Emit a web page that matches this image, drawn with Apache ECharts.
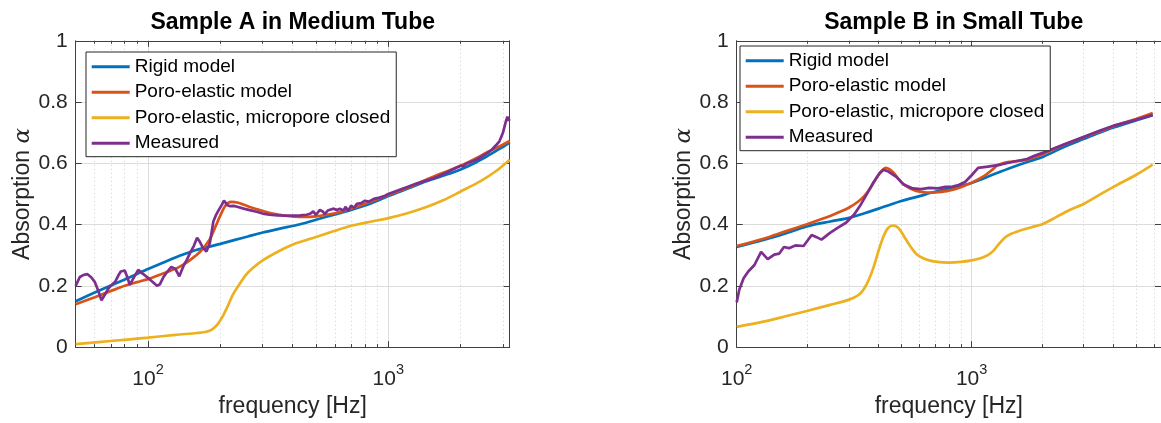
<!DOCTYPE html>
<html>
<head>
<meta charset="utf-8">
<script src="https://cdn.jsdelivr.net/npm/echarts@6/dist/echarts.min.js"></script>
<style>
html,body{margin:0;padding:0;background:#fff;}
#c{width:1161px;height:423px;}
</style>
</head>
<body>
<div id="c"></div>
<script>
// ---------------- DATA ----------------
const seriesNames = ['Rigid model', 'Poro-elastic model', 'Poro-elastic, micropore closed', 'Measured'];
const titles = ['Sample A in Medium Tube', 'Sample B in Small Tube'];
const yTicks = [0, 0.2, 0.4, 0.6, 0.8, 1];
const xMajorTicks = [100, 1000];
const xMinorTicksA = [60, 70, 80, 90, 200, 300, 400, 500, 600, 700, 800, 900, 2000, 3000];
const xMinorTicksB = [200, 300, 400, 500, 600, 700, 800, 900, 2000, 3000, 4000, 5000, 6000];
const xRangeA = [50, 3200];
const xRangeB = [100, 6400];

// Sample A (medium tube)
const fRigidA = [50, 60, 70, 80, 90, 100, 120, 140, 160, 180, 200, 230, 260, 300, 350, 430, 500, 600, 700, 850, 1000, 1200, 1450, 1700, 2000, 2300, 2600, 2900, 3200];
const vRigidA = [0.150, 0.178, 0.201, 0.221, 0.239, 0.255, 0.281, 0.302, 0.318, 0.328, 0.337, 0.350, 0.361, 0.374, 0.386, 0.401, 0.416, 0.433, 0.448, 0.470, 0.493, 0.517, 0.542, 0.560, 0.580, 0.602, 0.625, 0.647, 0.668];

const fPoroA = [50, 60, 70, 80, 90, 100, 120, 135, 150, 165, 180, 190, 200, 210, 222, 235, 260, 290, 330, 380, 430, 500, 600, 700, 850, 1000, 1200, 1450, 1700, 2000, 2300, 2600, 2900, 3200];
const vPoroA = [0.140, 0.163, 0.183, 0.200, 0.212, 0.222, 0.245, 0.262, 0.285, 0.312, 0.350, 0.390, 0.430, 0.462, 0.474, 0.472, 0.460, 0.448, 0.436, 0.428, 0.425, 0.427, 0.437, 0.452, 0.475, 0.497, 0.520, 0.548, 0.570, 0.592, 0.615, 0.638, 0.655, 0.673];

const fClosedA = [50, 70, 100, 130, 160, 175, 185, 195, 205, 215, 225, 240, 255, 270, 300, 350, 410, 490, 590, 700, 850, 1000, 1200, 1450, 1700, 2000, 2400, 2800, 3200];
const vClosedA = [0.010, 0.020, 0.031, 0.040, 0.046, 0.050, 0.058, 0.075, 0.102, 0.135, 0.170, 0.205, 0.235, 0.255, 0.283, 0.313, 0.338, 0.357, 0.378, 0.396, 0.410, 0.421, 0.437, 0.458, 0.480, 0.508, 0.540, 0.574, 0.612];

const fMeasA = [50, 52, 54, 56, 58, 60, 62, 64, 66, 68.5, 71, 73, 75, 77, 80, 82, 84, 87, 91, 95, 99, 104, 109, 112, 116, 120, 125, 130, 135, 138, 141, 145, 150, 155, 160, 164, 169, 175, 181, 187, 192, 197, 203, 207, 211, 214, 220, 227, 235, 250, 265, 283, 300, 320, 345, 370, 400, 430, 457, 475, 487, 500, 519, 535, 544, 560, 589, 610, 628, 650, 665, 680, 700, 720, 740, 770, 800, 830, 870, 920, 970, 1000, 1100, 1200, 1300, 1450, 1600, 1700, 1800, 1900, 2000, 2050, 2100, 2200, 2300, 2400, 2500, 2600, 2700, 2800, 2900, 3000, 3080, 3130, 3170, 3200];
const vMeasA = [0.200, 0.229, 0.236, 0.238, 0.228, 0.213, 0.185, 0.153, 0.170, 0.192, 0.205, 0.213, 0.232, 0.247, 0.250, 0.228, 0.203, 0.225, 0.252, 0.240, 0.229, 0.214, 0.200, 0.205, 0.229, 0.245, 0.262, 0.255, 0.231, 0.250, 0.268, 0.285, 0.309, 0.330, 0.357, 0.345, 0.325, 0.312, 0.341, 0.410, 0.432, 0.448, 0.465, 0.478, 0.470, 0.463, 0.460, 0.461, 0.458, 0.452, 0.447, 0.442, 0.436, 0.432, 0.430, 0.429, 0.429, 0.430, 0.432, 0.436, 0.443, 0.432, 0.448, 0.442, 0.434, 0.446, 0.452, 0.448, 0.452, 0.446, 0.458, 0.444, 0.462, 0.455, 0.468, 0.470, 0.478, 0.475, 0.484, 0.488, 0.494, 0.500, 0.512, 0.523, 0.533, 0.545, 0.556, 0.566, 0.575, 0.584, 0.592, 0.590, 0.598, 0.604, 0.610, 0.618, 0.627, 0.635, 0.645, 0.658, 0.672, 0.700, 0.735, 0.752, 0.740, 0.745];

// Sample B (small tube)
const fRigidB = [100, 130, 160, 199, 250, 301, 350, 402, 450, 498, 600, 698, 850, 1000, 1250, 1500, 1750, 2010, 2500, 3010, 3500, 4018, 5000, 5900];
const vRigidB = [0.327, 0.350, 0.370, 0.394, 0.410, 0.422, 0.437, 0.452, 0.465, 0.476, 0.493, 0.507, 0.522, 0.536, 0.565, 0.588, 0.606, 0.621, 0.655, 0.680, 0.700, 0.717, 0.740, 0.757];

const fPoroB = [100, 130, 160, 199, 230, 253, 280, 300, 325, 348, 365, 383, 400, 415, 432, 448, 464, 485, 511, 545, 580, 620, 659, 720, 800, 900, 1000, 1137, 1220, 1292, 1380, 1468, 1600, 1722, 1850, 2010, 2500, 3010, 3500, 4018, 5000, 5900];
const vPoroB = [0.330, 0.354, 0.377, 0.401, 0.418, 0.430, 0.444, 0.455, 0.472, 0.492, 0.512, 0.537, 0.560, 0.576, 0.585, 0.580, 0.570, 0.552, 0.533, 0.518, 0.510, 0.506, 0.504, 0.506, 0.511, 0.522, 0.537, 0.560, 0.578, 0.594, 0.602, 0.605, 0.608, 0.612, 0.620, 0.630, 0.662, 0.686, 0.704, 0.721, 0.745, 0.764];

const fClosedB = [100, 130, 160, 199, 250, 301, 330, 348, 365, 383, 400, 421, 440, 464, 480, 495, 520, 545, 580, 619, 660, 703, 800, 900, 1000, 1100, 1172, 1240, 1292, 1380, 1468, 1600, 1722, 1850, 2010, 2300, 2600, 3010, 3500, 4018, 5000, 5900];
const vClosedB = [0.066, 0.083, 0.100, 0.118, 0.138, 0.155, 0.170, 0.190, 0.220, 0.262, 0.310, 0.360, 0.388, 0.397, 0.393, 0.383, 0.357, 0.332, 0.305, 0.291, 0.283, 0.279, 0.276, 0.278, 0.283, 0.291, 0.300, 0.315, 0.332, 0.356, 0.369, 0.380, 0.387, 0.394, 0.402, 0.425, 0.447, 0.468, 0.497, 0.523, 0.562, 0.596];

const fMeasB = [100, 102.6, 107, 112, 119, 127, 135.5, 144.5, 151.6, 158.9, 166.8, 177.8, 192.6, 208.5, 218.9, 229.5, 248.7, 269.8, 291.9, 316.2, 337.3, 359.6, 383, 405.6, 421.4, 442.3, 479.5, 511, 562, 610, 659, 720, 774, 830, 880, 938, 1000, 1066, 1172, 1334, 1517, 1722, 1850, 2023, 2500, 3010, 3500, 4018, 5000, 5900];
const vMeasB = [0.146, 0.188, 0.225, 0.247, 0.268, 0.311, 0.287, 0.302, 0.305, 0.327, 0.323, 0.332, 0.330, 0.366, 0.359, 0.351, 0.372, 0.390, 0.406, 0.433, 0.465, 0.502, 0.539, 0.568, 0.579, 0.573, 0.555, 0.532, 0.518, 0.516, 0.520, 0.518, 0.523, 0.524, 0.529, 0.539, 0.561, 0.585, 0.589, 0.596, 0.606, 0.614, 0.625, 0.635, 0.663, 0.687, 0.706, 0.723, 0.742, 0.758];

// ---------------- STYLE / LAYOUT ----------------
const colors = ['#0072BD', '#D95319', '#EDB120', '#7E2F8E'];
const FONT = '"Liberation Sans", Arial, Helvetica, sans-serif';
const axisColor = '#404040';
const textColor = '#262626';
const grids = [
  { left: 75.7, top: 40.8, width: 434, height: 312.5 },
  { left: 736.7, top: 40.8, width: 434, height: 312.5 }
];

function zip(f, v) { return f.map((x, i) => [x, v[i]]); }

const xAxes = [];
const yAxes = [];
const ranges = [xRangeA, xRangeB];
const minors = [xMinorTicksA, xMinorTicksB];

for (let g = 0; g < 2; g++) {
  const base = { type: 'log', logBase: 10, gridIndex: g, min: ranges[g][0], max: ranges[g][1], axisLine: { onZero: false } };
  // bottom major
  xAxes.push(Object.assign({}, base, {
    position: 'bottom',
    axisLine: { show: true, onZero: false, lineStyle: { color: axisColor, width: 1 } },
    axisTick: { show: true, inside: true, length: 6, customValues: xMajorTicks, lineStyle: { color: axisColor } },
    axisLabel: {
      show: true, customValues: xMajorTicks, margin: 15, color: textColor,
      fontFamily: FONT, fontSize: 21,
      formatter: v => '{b|10}{s|' + Math.round(Math.log10(v)) + '}',
      rich: {
        b: { fontSize: 21, lineHeight: 28, verticalAlign: 'bottom', color: textColor, fontFamily: FONT },
        s: { fontSize: 14.5, lineHeight: 12, verticalAlign: 'top', color: textColor, fontFamily: FONT }
      }
    },
    splitLine: { show: true, lineStyle: { color: '#dcdcdc', width: 1 } },
    name: 'frequency [Hz]', nameLocation: 'middle', nameGap: 47,
    nameTextStyle: { fontFamily: FONT, fontSize: 23, color: textColor }
  }));
  // bottom minor
  xAxes.push(Object.assign({}, base, {
    position: 'bottom',
    axisLine: { show: false, onZero: false },
    axisTick: { show: true, inside: true, length: 3, customValues: minors[g], lineStyle: { color: axisColor } },
    axisLabel: { show: false, customValues: minors[g] },
    splitLine: { show: true, lineStyle: { color: '#cfcfcf', width: 1, type: [1, 3] } }
  }));
  // top major
  xAxes.push(Object.assign({}, base, {
    position: 'top',
    axisLine: { show: true, onZero: false, lineStyle: { color: axisColor, width: 1 } },
    axisTick: { show: true, inside: true, length: 6, customValues: xMajorTicks, lineStyle: { color: axisColor } },
    axisLabel: { show: false, customValues: xMajorTicks },
    splitLine: { show: false }
  }));
  // top minor
  xAxes.push(Object.assign({}, base, {
    position: 'top',
    axisLine: { show: false, onZero: false },
    axisTick: { show: true, inside: true, length: 3, customValues: minors[g], lineStyle: { color: axisColor } },
    axisLabel: { show: false, customValues: minors[g] },
    splitLine: { show: false }
  }));

  yAxes.push({
    type: 'value', gridIndex: g, min: yTicks[0], max: yTicks[yTicks.length - 1], interval: 0.2, position: 'left',
    axisLine: { show: true, onZero: false, lineStyle: { color: axisColor, width: 1 } },
    axisTick: { show: true, inside: true, length: 6, lineStyle: { color: axisColor } },
    axisLabel: { show: true, margin: 8, color: textColor, fontFamily: FONT, fontSize: 21 },
    splitLine: { show: true, lineStyle: { color: '#dcdcdc', width: 1 } },
    name: 'Absorption {a|α}', nameLocation: 'middle', nameGap: 36, nameRotate: 90,
    nameTextStyle: {
      fontFamily: FONT, fontSize: 23, color: textColor,
      rich: { a: { fontFamily: '"DejaVu Serif", serif', fontStyle: 'italic', fontSize: 23, color: textColor } }
    }
  });
  yAxes.push({
    type: 'value', gridIndex: g, min: yTicks[0], max: yTicks[yTicks.length - 1], interval: 0.2, position: 'right',
    axisLine: { show: true, onZero: false, lineStyle: { color: axisColor, width: 1 } },
    axisTick: { show: true, inside: true, length: 6, lineStyle: { color: axisColor } },
    axisLabel: { show: false },
    splitLine: { show: false }
  });
}

const dataSets = [
  [zip(fRigidA, vRigidA), zip(fPoroA, vPoroA), zip(fClosedA, vClosedA), zip(fMeasA, vMeasA)],
  [zip(fRigidB, vRigidB), zip(fPoroB, vPoroB), zip(fClosedB, vClosedB), zip(fMeasB, vMeasB)]
];

const series = [];
for (let g = 0; g < 2; g++) {
  for (let s = 0; s < 4; s++) {
    series.push({
      type: 'line', name: seriesNames[s],
      xAxisIndex: g * 4, yAxisIndex: g * 2,
      data: dataSets[g][s],
      showSymbol: false, symbol: 'none',
      smooth: s === 3 ? false : 0.3,
      clip: true,
      lineStyle: { color: colors[s], width: 2.7 },
      itemStyle: { color: colors[s] },
      z: 2 + s
    });
  }
}

const legendCommon = {
  orient: 'vertical', icon: 'rect', itemWidth: 38, itemHeight: 3, itemGap: 3.5,
  backgroundColor: '#ffffff', borderColor: '#262626', borderWidth: 1, borderRadius: 0,
  padding: [3.7, 6, 2.5, 5.7],
  selectedMode: false,
  textStyle: { fontFamily: FONT, fontSize: 19, color: '#000', lineHeight: 22 },
  data: seriesNames, z: 10
};

const option = {
  animation: false,
  backgroundColor: '#ffffff',
  grid: grids.map(g => Object.assign({ containLabel: false }, g)),
  xAxis: xAxes,
  yAxis: yAxes,
  legend: [
    Object.assign({}, legendCommon, { left: 86, top: 52 }),
    Object.assign({}, legendCommon, { left: 740, top: 46 })
  ],
  graphic: [
    { type: 'text', x: grids[0].left + grids[0].width / 2, y: 23,
      style: { text: titles[0], textAlign: 'center', textVerticalAlign: 'middle', fontFamily: FONT, fontSize: 23, fontWeight: 'bold', fill: '#000' } },
    { type: 'text', x: grids[1].left + grids[1].width / 2, y: 23,
      style: { text: titles[1], textAlign: 'center', textVerticalAlign: 'middle', fontFamily: FONT, fontSize: 23, fontWeight: 'bold', fill: '#000' } }
  ],
  series: series
};

const chart = echarts.init(document.getElementById('c'), null, { renderer: 'canvas' });
chart.setOption(option);
</script>
</body>
</html>
